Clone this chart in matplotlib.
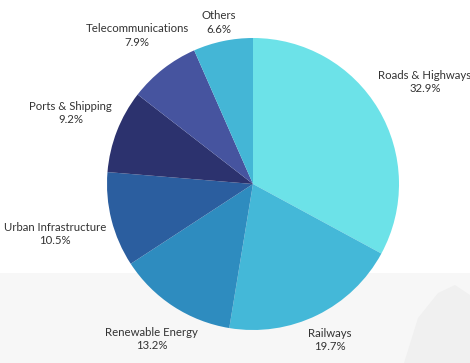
import matplotlib
matplotlib.use("Agg")
import matplotlib.pyplot as plt
from matplotlib.patches import Rectangle, Polygon
import numpy as np

categories = ["Roads & Highways", "Railways", "Renewable Energy", "Urban Infrastructure",
              "Ports & Shipping", "Telecommunications", "Others"]
values = [32.9, 19.7, 13.2, 10.5, 9.2, 7.9, 6.6]
colors = ["#6ce2e8", "#44b8d8", "#2e8cbf", "#2b5e9f", "#2c326e", "#46549f", "#44b6d6"]
label_dist = [1.37, 1.19, 1.27, 1.40, 1.34, 1.29, 1.13]

W, H = 470, 363
fig = plt.figure(figsize=(W / 100, H / 100), dpi=100)
ax = fig.add_axes([0, 0, 1, 1])

# background band and faint decoration
ax.add_patch(Rectangle((0, 0), W, 90, facecolor="#f7f7f7", edgecolor="none", zorder=0))
ax.add_patch(Polygon([(404, 0), (418, 45), (438, 70), (455, 78), (470, 68), (470, 0)],
                     closed=True, facecolor="#f0f0f0", edgecolor="none", zorder=0.5))

cx, cy, R = 253, H - 184, 146
wedges, _ = ax.pie(values, colors=colors, startangle=90, counterclock=False,
                   center=(cx, cy), radius=R, frame=True,
                   wedgeprops=dict(edgecolor="none", linewidth=0))
ax.set_xlim(0, W)
ax.set_ylim(0, H)
ax.set_aspect("equal")
ax.axis("off")

for w, cat, v, d in zip(wedges, categories, values, label_dist):
    ang = np.deg2rad((w.theta1 + w.theta2) / 2)
    x = cx + R * d * np.cos(ang)
    y = cy + R * d * np.sin(ang)
    ax.text(x, y, f"{cat}\n{v}%", ha="center", va="center", fontsize=8.2,
            family="Lato", color="#333333", linespacing=1.25, zorder=5)

fig.savefig("out.png", dpi=100, facecolor="white")
